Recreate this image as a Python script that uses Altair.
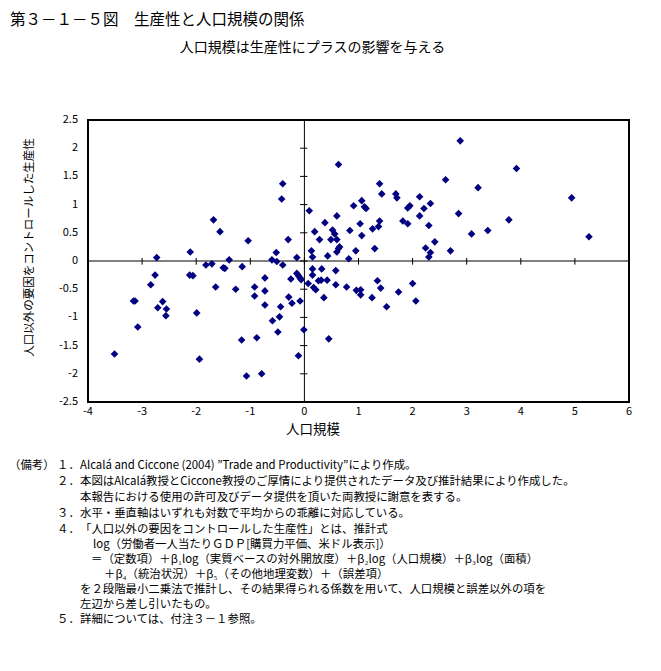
import altair as alt
import pandas as pd

# ---- data ----
pop_scale = [-3.51, -3.16, -3.13, -3.08, -2.84, -2.76, -2.73, -2.71, -2.62, -2.55,
             -2.56, -2.11, -2.12, -2.06, -1.99, -1.94, -1.82, -1.71, -1.68, -1.64,
             -1.56, -1.39, -1.50, -1.47, -1.27, -1.15, -1.16, -1.07, -1.04, -0.92,
             -0.92, -0.88, -0.79, -0.73, -0.73, -0.73, -0.60, -0.52, -0.51, -0.59,
             -0.49, -0.46, -0.44, -0.40, -0.40, -0.42, -0.30, -0.29, -0.25, -0.23,
             -0.14, -0.14, -0.11, -0.08, -0.06, -0.08, -0.11, -0.01, 0.07, 0.09,
             0.13, 0.15, 0.15, 0.15, 0.17, 0.21, 0.19, 0.28, 0.26, 0.31,
             0.32, 0.36, 0.38, 0.43, 0.42, 0.45, 0.49, 0.52, 0.56, 0.60,
             0.58, 0.58, 0.60, 0.63, 0.65, 0.63, 0.60, 0.78, 0.82, 0.84,
             0.91, 0.95, 0.96, 1.04, 1.04, 1.03, 1.06, 1.06, 1.11, 1.14,
             1.26, 1.25, 1.30, 1.35, 1.37, 1.39, 1.39, 1.43, 1.41, 1.52,
             1.69, 1.71, 1.74, 1.82, 1.91, 1.91, 1.95, 2.00, 2.06, 2.13,
             2.13, 2.21, 2.24, 2.30, 2.33, 2.33, 2.30, 2.41, 2.61, 2.70,
             2.85, 2.88, 3.09, 3.21, 3.39, 3.78, 3.92, 4.94, 5.26]
productivity = [-1.65, -0.71, -0.71, -1.17, -0.42, -0.25, 0.06, -0.83, -0.72, -0.85,
                -0.97, 0.16, -0.25, -0.26, -0.92, -1.74, -0.07, -0.05, 0.73, -0.46,
                0.52, 0.02, -0.12, -0.13, -0.50, -0.10, -1.40, -2.04, 0.36, -0.46,
                -0.62, -1.36, -2.00, -0.30, -0.53, -0.78, 0.02, 0.15, -0.01, -1.06,
                -1.26, -0.99, -0.81, -0.07, 1.37, 1.10, 0.38, -0.64, -0.32, -0.75,
                0.06, -0.22, -0.26, -0.30, -0.33, -0.71, -1.68, -1.22, -0.40, 0.89,
                0.18, 0.07, -0.14, -0.25, -0.47, -0.51, 0.52, 0.38, -0.35, -0.34,
                -0.14, -0.65, 0.68, 0.09, -0.34, -1.38, 0.38, 0.55, 0.48, 0.38,
                -0.17, -0.42, 0.80, 1.71, 0.25, 0.22, 0.16, -0.46, 0.04, 0.54,
                0.98, 0.18, -0.52, -0.51, -0.60, 0.66, 1.07, 0.45, 0.96, 0.93,
                0.57, -0.65, 0.22, -0.35, 0.61, 0.71, 1.37, 1.19, -0.48, -0.81,
                1.19, 1.12, -0.55, 0.71, 0.66, 0.94, 0.98, -0.40, -0.71, 1.14,
                0.80, 0.93, 0.23, 0.63, 1.02, 0.15, 0.07, 0.34, 1.44, 0.18,
                0.84, 2.13, 0.48, 1.30, 0.54, 0.73, 1.64, 1.12, 0.43]
x_ticks = [-4, -3, -2, -1, 0, 1, 2, 3, 4, 5, 6]
y_ticks = [-2.5, -2, -1.5, -1, -0.5, 0, 0.5, 1, 1.5, 2, 2.5]
x_tick_labels = ["-4", "-3", "-2", "-1", "0", "1", "2", "3", "4", "5", "6"]
y_tick_labels = ["-2.5", "-2", "-1.5", "-1", "-0.5", "0", "0.5", "1", "1.5", "2", "2.5"]

title_text = "第３－１－５図　生産性と人口規模の関係"
subtitle_text = "人口規模は生産性にプラスの影響を与える"
x_title = "人口規模"
y_title = "人口以外の要因をコントロールした生産性"
notes = [
    ("（備考）", 9, 466),
    ("１．", 57, 466),
    ("Alcalá and Ciccone (2004) ”Trade and Productivity”により作成。", 80, 466),
    ("２．", 57, 482),
    ("本図はAlcalá教授とCiccone教授のご厚情により提供されたデータ及び推計結果により作成した。", 80, 482),
    ("本報告における使用の許可及びデータ提供を頂いた両教授に謝意を表する。", 80, 498),
    ("３．", 57, 514),
    ("水平・垂直軸はいずれも対数で平均からの乖離に対応している。", 80, 514),
    ("４．", 57, 530),
    ("「人口以外の要因をコントロールした生産性」とは、推計式", 80, 530),
    ("log（労働者一人当たりＧＤＰ[購買力平価、米ドル表示]）", 93, 545),
    ("＝（定数項）＋β₁log（実質ベースの対外開放度）＋β₂log（人口規模）＋β₃log（面積）", 91, 560),
    ("＋β₄（統治状況）＋β₅（その他地理変数）＋（誤差項）", 104, 575),
    ("を２段階最小二乗法で推計し、その結果得られる係数を用いて、人口規模と誤差以外の項を", 80, 590),
    ("左辺から差し引いたもの。", 80, 605),
    ("５．", 57, 620),
    ("詳細については、付注３－１参照。", 80, 620),
]

FONT = "Noto Sans CJK JP"
W, H = 541, 282
OX, OY = 88, 120  # page position of plot origin

xscale = alt.Scale(domain=[-4, 6], nice=False, zero=False)
yscale = alt.Scale(domain=[-2.5, 2.5], nice=False, zero=False)

pts = pd.DataFrame({"x": pop_scale, "y": productivity})
points = alt.Chart(pts).mark_point(
    shape="diamond", filled=True, color="#000080", size=58, opacity=1
).encode(
    x=alt.X("x:Q", scale=xscale, axis=None),
    y=alt.Y("y:Q", scale=yscale, axis=None),
)

one = pd.DataFrame({"a": [0]})
hzero = alt.Chart(one).mark_rule(color="black", strokeWidth=1).encode(
    y=alt.YDatum(0, scale=yscale, axis=None))
vzero = alt.Chart(one).mark_rule(color="black", strokeWidth=1).encode(
    x=alt.XDatum(0, scale=xscale, axis=None))

xt = pd.DataFrame({"x": x_ticks, "lab": x_tick_labels})
yt = pd.DataFrame({"y": y_ticks, "lab": y_tick_labels})
xtick_marks = alt.Chart(xt).mark_rule(color="black", strokeWidth=1).encode(
    x=alt.X("x:Q", scale=xscale, axis=None),
    y=alt.YDatum(-0.065, scale=yscale, axis=None), y2=alt.Y2Datum(0.055))
ytick_marks = alt.Chart(yt).mark_rule(color="black", strokeWidth=1).encode(
    y=alt.Y("y:Q", scale=yscale, axis=None),
    x=alt.XDatum(-0.08, scale=xscale, axis=None), x2=alt.X2Datum(0.055))

xlabels = alt.Chart(xt).mark_text(
    align="center", baseline="middle", font=FONT, fontSize=11, color="black"
).encode(x=alt.X("x:Q", scale=xscale, axis=None), y=alt.value(412 - OY), text="lab:N")
ylabels = alt.Chart(yt).mark_text(
    align="right", baseline="middle", font=FONT, fontSize=11, color="black"
).encode(y=alt.Y("y:Q", scale=yscale, axis=None), x=alt.value(78 - OX), text="lab:N")


def txt(s, px, py, size, align="left", angle=0):
    return alt.Chart(one).mark_text(
        align=align, baseline="middle", font=FONT, fontSize=size, color="black", angle=angle
    ).encode(x=alt.value(px - OX), y=alt.value(py - OY), text=alt.value(s))


texts = [
    txt(title_text, 10, 20, 15.5),
    txt(subtitle_text, 312.5, 48, 14, align="center"),
    txt(x_title, 313, 430, 13.5, align="center"),
    txt(y_title, 29.5, 247.5, 11.5, align="center", angle=270),
]
for s, px, py in notes:
    texts.append(txt(s, px, py, 11.4))

chart = alt.layer(hzero, vzero, xtick_marks, ytick_marks, points, xlabels, ylabels,
                  *texts).properties(
    width=W, height=H,
    autosize=alt.AutoSizeParams(type="none"),
    padding={"left": 80, "top": 112, "right": 24, "bottom": 240},
).configure_view(stroke="black", strokeWidth=2)

chart.save("out.html", embed_options={"renderer": "svg", "actions": False})
